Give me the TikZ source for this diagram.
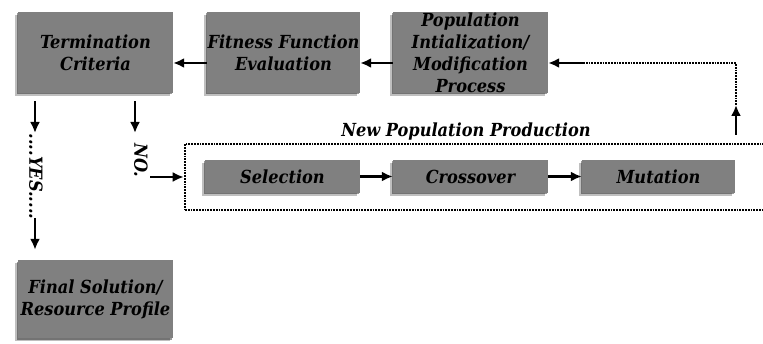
\documentclass[tikz,border=0pt]{standalone}
\usepackage{tikz}
\usepackage{fontspec}
\usetikzlibrary{arrows,arrows.meta,positioning,shadows,calc}
\newfontfamily\boxfam{DejaVu Serif Condensed}
\definecolor{boxgray}{RGB}{128,128,128}
\newcommand{\boxfont}{\boxfam\fontsize{18}{22}\selectfont\bfseries\itshape}
\tikzset{
  gabox/.style={fill=boxgray, inner sep=0pt, align=center, font=\boxfont,
    drop shadow={shadow xshift=-3pt, shadow yshift=-3pt, fill=black, opacity=0.25},
    drop shadow={shadow xshift=-1.5pt, shadow yshift=-1.5pt, fill=black, opacity=0.4}},
  dotline/.style={line width=2.6pt, dash pattern=on 1.8pt off 1pt},
  arr/.style={line width=2.3pt, -{Latex[length=11pt, width=10pt]}}
}

\begin{document}
\begin{tikzpicture}[x=1pt, y=1pt]
        \clip (0,0) rectangle (763,343);
        %nodes
        \node[gabox, minimum width=155, minimum height=81] (term) at (95.5, 290.5) {Termination\\Criteria};
        \node[gabox, minimum width=153, minimum height=81] (fit) at (283.5, 290.5) {Fitness Function\\Evaluation};
        \node[gabox, minimum width=155, minimum height=81] (pop) at (470.5, 290.5) {Population\\Intialization/\\Modification\\Process};
        \node[draw, dotline, minimum width=615, minimum height=66] (npp) at (492.5, 166) {};
        \node[font=\boxfont] (npplabel) at (466, 211) {New Population Production};
        \node[gabox, minimum width=155, minimum height=33] (sel) at (282.5, 166.5) {Selection};
        \node[gabox, minimum width=155, minimum height=33] (cro) at (470.5, 166.5) {Crossover};
        \node[gabox, minimum width=153, minimum height=33] (mut) at (658.5, 166.5) {Mutation};
        \node[gabox, minimum width=155, minimum height=78] (fin) at (95.5, 44) {Final Solution/\\Resource Profile};
        \node[font=\boxfont, rotate=-90] (yes) at (36, 166.5) {....YES.....};
        \node[font=\boxfont, rotate=-90] (no) at (141, 183) {NO.};
        %coordinates
        \coordinate (yesend) at (35, 210);
        \coordinate (yesstart) at (35, 125);
        \coordinate (noend) at (135, 210);
        \coordinate (nostart) at (150, 166);
        \coordinate (fbstart) at (583, 280);
        \coordinate (fbup) at (736, 238);
        \coordinate (fbfoot) at (736, 208);
        %edges
        \path [draw,arr] (fit.west |- fbstart) to (term.east |- fbstart);
        \path [draw,arr] (pop.west |- fbstart) to (fit.east |- fbstart);
        \path [draw,arr] (fbstart) to (pop.east |- fbstart);
        \path [draw,dotline] (fbstart) -| (fbup);
        \path [draw,arr] (fbfoot) to (fbup);
        \path [draw,arr] (sel) to (cro);
        \path [draw,arr] (cro) to (mut);
        \path [draw,arr,shorten <=8pt] (term.south -| yesend) to (yesend);
        \path [draw,arr,shorten <=8pt] (term.south -| noend) to (noend);
        \path [draw,arr,shorten >=10pt] (yesstart) to (fin.north -| yesstart);
        \path [draw,arr] (nostart) to (npp.west |- nostart);
      \end{tikzpicture}
\end{document}
